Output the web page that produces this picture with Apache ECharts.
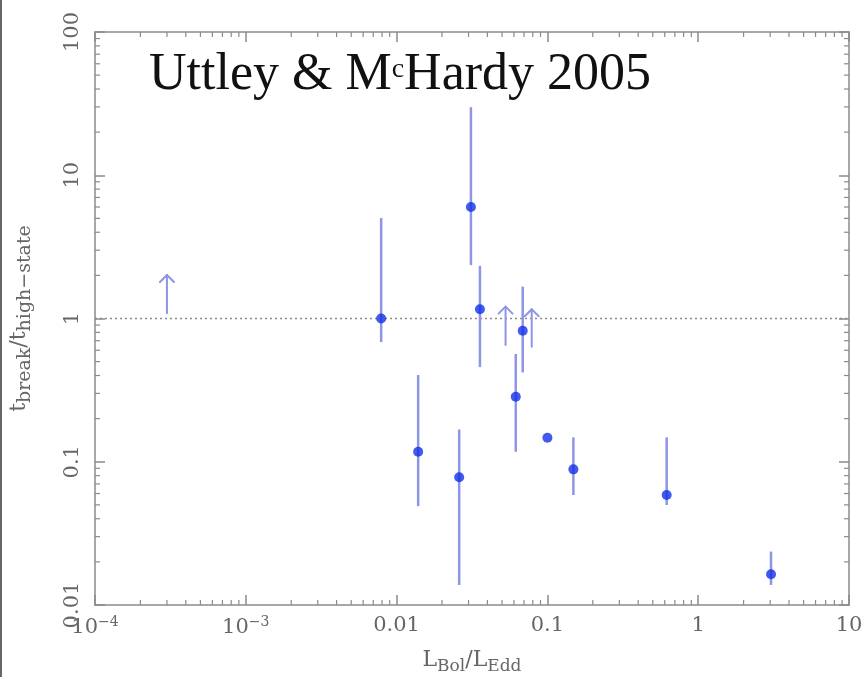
<!DOCTYPE html>
<html>
<head>
<meta charset="utf-8">
<script src="https://cdn.jsdelivr.net/npm/echarts@6/dist/echarts.min.js"></script>
<style>
html,body{margin:0;padding:0;background:#fff;}
#chart{width:864px;height:677px;}
</style>
</head>
<body>
<div id="chart"></div>
<script>
// ---- data ----
const xVals   = [0.0079, 0.0139, 0.026, 0.0311, 0.0357, 0.0617, 0.0686, 0.1, 0.1487, 0.618, 3.04];
const yVals   = [1.0, 0.1175, 0.078, 6.0, 1.16, 0.284, 0.822, 0.147, 0.0885, 0.0586, 0.0164];
const yLow    = [0.685, 0.049, 0.0138, 2.36, 0.458, 0.1175, 0.42, null, 0.0586, 0.0499, 0.0138];
const yHigh   = [5.03, 0.403, 0.168, 29.9, 2.33, 0.565, 1.67, null, 0.148, 0.148, 0.0236];

// lower limits (arrows)
const limX    = [0.0003, 0.0528, 0.0787];
const limFrom = [1.09, 0.653, 0.635];
const limTo   = [2.01, 1.21, 1.16];

// reference line
const refY = 1;

// tick labels
const xTickLabels = ['10{sup|\u22124}', '10{sup|\u22123}', '0.01', '0.1', '1', '10'];
const yTickLabels = ['0.01', '0.1', '1', '10', '100'];
const xMin = 1e-4, xMax = 10, yMin = 0.01, yMax = 100;
const minorMult = [2, 3, 4, 5, 6, 7, 8, 9];

const axisGray = '#8a8a8a';
const labelGray = '#666';
const barColor = '#8f95e6';
const ptColor = '#1230e8';
const serif = 'DejaVu Serif';

const chart = echarts.init(document.getElementById('chart'));

function xLab(v) {
  const i = Math.round(Math.log10(v)) + 4;
  return xTickLabels[i] !== undefined ? xTickLabels[i] : '';
}
function yLab(v) {
  const i = Math.round(Math.log10(v)) + 2;
  return yTickLabels[i] !== undefined ? yTickLabels[i] : '';
}

const baseAxis = {
  type: 'log', logBase: 10,
  axisLine: {show: true, onZero: false, lineStyle: {color: axisGray, width: 1.5}},
  axisTick: {show: true, inside: true, length: 10, lineStyle: {color: axisGray, width: 1.5}},
  splitLine: {show: false},
  minorTick: {show: false}
};

const errData = [];
for (let i = 0; i < xVals.length; i++) {
  if (yLow[i] != null && yHigh[i] != null) errData.push([xVals[i], yLow[i], yHigh[i]]);
}
const limData = limX.map((x, i) => [x, limFrom[i], limTo[i]]);
const ptData = xVals.map((x, i) => [x, yVals[i]]);

const option = {
  backgroundColor: '#fff',
  animation: false,
  grid: {left: 95, right: 15, top: 32, bottom: 72, containLabel: false, outerBoundsMode: 'none'},
  xAxis: [
    Object.assign({}, baseAxis, {
      min: xMin, max: xMax, position: 'bottom',
      axisLabel: {
        show: true, margin: 10, showMinLabel: true, showMaxLabel: true,
        formatter: xLab,
        color: labelGray, fontFamily: serif, fontSize: 21,
        rich: {sup: {fontFamily: serif, fontSize: 14, color: labelGray, padding: [0, 0, 12, 0]}}
      },
      name: 'L{sub|Bol}/L{sub|Edd}', nameLocation: 'middle', nameGap: 40,
      nameTextStyle: {color: labelGray, fontFamily: serif, fontSize: 22,
        rich: {sub: {fontFamily: serif, fontSize: 17, color: labelGray, padding: [13, 0, 0, 0]}}}
    }),
    Object.assign({}, baseAxis, {
      min: xMin, max: xMax, position: 'top', axisLabel: {show: false}
    })
  ],
  yAxis: [
    Object.assign({}, baseAxis, {
      min: yMin, max: yMax, position: 'left',
      axisLabel: {
        show: true, rotate: 90, margin: 12, showMinLabel: true, showMaxLabel: true,
        formatter: yLab, color: labelGray, fontFamily: serif, fontSize: 21
      },
      name: 't{sub|break}/t{sub|high\u2212state}', nameLocation: 'middle', nameGap: 60, nameRotate: 90,
      nameTextStyle: {color: labelGray, fontFamily: serif, fontSize: 22,
        rich: {sub: {fontFamily: serif, fontSize: 19, color: labelGray, padding: [13, 0, 0, 0]}}}
    }),
    Object.assign({}, baseAxis, {
      min: yMin, max: yMax, position: 'right', axisLabel: {show: false}
    })
  ],
  graphic: [
    {type: 'rect', left: 0, top: 0, shape: {width: 2, height: 677}, style: {fill: '#666'}, silent: true},
    {
      type: 'text', left: 149, top: 49, silent: true,
      style: {
        text: '{a|Uttley & M}{c|c}{a|Hardy 2005}',
        rich: {
          a: {fontFamily: 'Liberation Serif', fontSize: 52, fill: '#111', color: '#111'},
          c: {fontFamily: 'Liberation Serif', fontSize: 28, fill: '#111', color: '#111', verticalAlign: 'top', padding: [7, 0, 0, 0]}
        }
      }
    }
  ],
  series: [
    { // minor ticks on all four sides
      type: 'custom', xAxisIndex: 0, yAxisIndex: 0, silent: true, z: 1,
      data: [[1, 1]],
      renderItem: function (params, api) {
        const bl = api.coord([xMin, yMin]);
        const tr = api.coord([xMax, yMax]);
        const kids = [];
        const st = {stroke: axisGray, lineWidth: 1.2};
        const L = 5;
        for (let e = -4; e < 1; e++) {
          minorMult.forEach(m => {
            const v = m * Math.pow(10, e);
            const p = api.coord([v, yMin]);
            kids.push({type: 'line', shape: {x1: p[0], y1: bl[1], x2: p[0], y2: bl[1] - L}, style: st});
            kids.push({type: 'line', shape: {x1: p[0], y1: tr[1], x2: p[0], y2: tr[1] + L}, style: st});
          });
        }
        for (let e = -2; e < 2; e++) {
          minorMult.forEach(m => {
            const v = m * Math.pow(10, e);
            const p = api.coord([xMin, v]);
            kids.push({type: 'line', shape: {x1: bl[0], y1: p[1], x2: bl[0] + L, y2: p[1]}, style: st});
            kids.push({type: 'line', shape: {x1: tr[0], y1: p[1], x2: tr[0] - L, y2: p[1]}, style: st});
          });
        }
        return {type: 'group', children: kids};
      }
    },
    { // reference line at 1
      type: 'custom', xAxisIndex: 0, yAxisIndex: 0, silent: true, z: 2,
      data: [[xMin, refY]],
      renderItem: function (params, api) {
        const a = api.coord([xMin, refY]);
        const b = api.coord([xMax, refY]);
        return {type: 'line', shape: {x1: a[0], y1: a[1], x2: b[0], y2: b[1]},
          style: {stroke: '#8a8a8a', lineWidth: 1.5, lineDash: [2, 3]}};
      }
    },
    { // error bars
      type: 'custom', xAxisIndex: 0, yAxisIndex: 0, silent: true, z: 3,
      data: errData,
      renderItem: function (params, api) {
        const a = api.coord([api.value(0), api.value(1)]);
        const b = api.coord([api.value(0), api.value(2)]);
        return {type: 'line', shape: {x1: a[0], y1: a[1], x2: b[0], y2: b[1]},
          style: {stroke: barColor, lineWidth: 2.5}};
      }
    },
    { // lower-limit arrows
      type: 'custom', xAxisIndex: 0, yAxisIndex: 0, silent: true, z: 3,
      data: limData,
      renderItem: function (params, api) {
        const a = api.coord([api.value(0), api.value(1)]);
        const b = api.coord([api.value(0), api.value(2)]);
        const st = {stroke: barColor, lineWidth: 2, lineCap: 'round', lineJoin: 'round', fill: null};
        return {type: 'group', children: [
          {type: 'line', shape: {x1: a[0], y1: a[1], x2: b[0], y2: b[1]}, style: st},
          {type: 'polyline', shape: {points: [[b[0] - 7, b[1] + 7], [b[0], b[1]], [b[0] + 7, b[1] + 7]]}, style: st}
        ]};
      }
    },
    {
      type: 'scatter', xAxisIndex: 0, yAxisIndex: 0, z: 4,
      data: ptData, symbol: 'circle', symbolSize: 10,
      itemStyle: {color: ptColor}
    }
  ]
};
chart.setOption(option);
</script>
</body>
</html>
